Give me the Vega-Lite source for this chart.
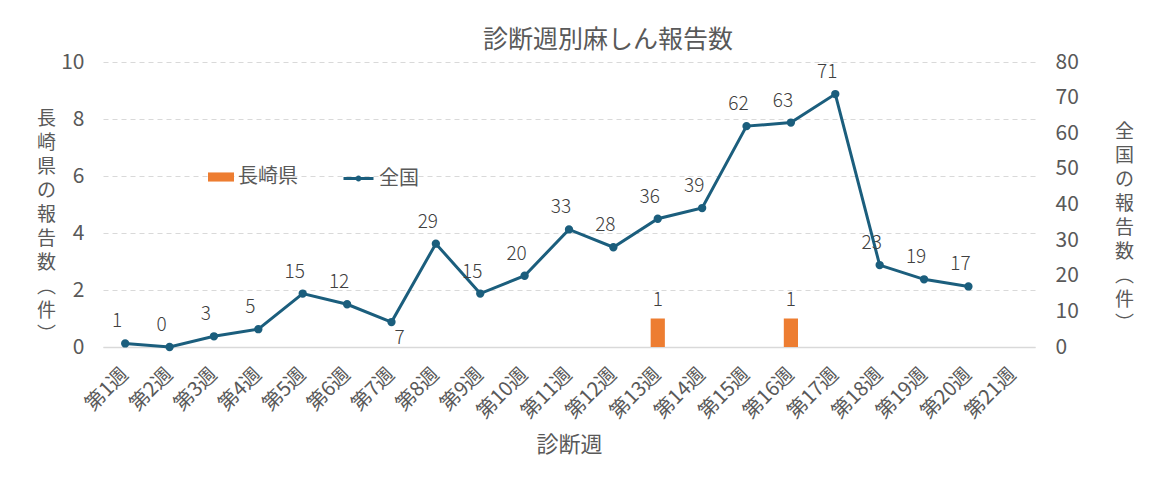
{
  "$schema": "https://vega.github.io/schema/vega-lite/v6.json",
  "width": 932,
  "height": 285,
  "autosize": {"type": "none"},
  "padding": {"left": 103, "top": 62, "right": 127, "bottom": 152},
  "background": "white",
  "config": {
    "font": "Noto Sans CJK JP",
    "view": {"stroke": null},
    "axis": {"labelColor": "#595959", "titleColor": "#595959", "labelFont": "Noto Sans CJK JP", "titleFont": "Noto Sans CJK JP", "titleFontWeight": "normal", "labelOverlap": false},
    "legend": {"labelColor": "#595959", "labelFont": "Noto Sans CJK JP", "labelFontSize": 20}
  },
  "title": {"text": "診断週別麻しん報告数", "fontSize": 25, "fontWeight": "normal", "color": "#595959", "font": "Noto Sans CJK JP", "anchor": "middle", "dx": 39, "offset": -2},
  "data": {
    "values": [
      {"week": "第1週", "nagasaki": 0, "zenkoku": 1},
      {"week": "第2週", "nagasaki": 0, "zenkoku": 0},
      {"week": "第3週", "nagasaki": 0, "zenkoku": 3},
      {"week": "第4週", "nagasaki": 0, "zenkoku": 5},
      {"week": "第5週", "nagasaki": 0, "zenkoku": 15},
      {"week": "第6週", "nagasaki": 0, "zenkoku": 12},
      {"week": "第7週", "nagasaki": 0, "zenkoku": 7},
      {"week": "第8週", "nagasaki": 0, "zenkoku": 29},
      {"week": "第9週", "nagasaki": 0, "zenkoku": 15},
      {"week": "第10週", "nagasaki": 0, "zenkoku": 20},
      {"week": "第11週", "nagasaki": 0, "zenkoku": 33},
      {"week": "第12週", "nagasaki": 0, "zenkoku": 28},
      {"week": "第13週", "nagasaki": 1, "zenkoku": 36},
      {"week": "第14週", "nagasaki": 0, "zenkoku": 39},
      {"week": "第15週", "nagasaki": 0, "zenkoku": 62},
      {"week": "第16週", "nagasaki": 1, "zenkoku": 63},
      {"week": "第17週", "nagasaki": 0, "zenkoku": 71},
      {"week": "第18週", "nagasaki": 0, "zenkoku": 23},
      {"week": "第19週", "nagasaki": 0, "zenkoku": 19},
      {"week": "第20週", "nagasaki": 0, "zenkoku": 17},
      {"week": "第21週", "nagasaki": null, "zenkoku": null}
    ]
  },
  "encoding": {
    "x": {
      "field": "week", "type": "nominal", "sort": null,
      "scale": {"paddingInner": 0, "paddingOuter": 0},
      "axis": {
        "title": "診断週", "titleFontSize": 22, "titlePadding": 12,
        "labelAngle": -45, "labelAlign": "right", "labelBaseline": "middle", "labelFontSize": 20, "labelPadding": 24,
        "ticks": false, "domainColor": "#D9D9D9", "domainWidth": 1.5, "grid": false
      }
    }
  },
  "layer": [
    {
      "encoding": {
        "y": {
          "field": "nagasaki", "type": "quantitative",
          "scale": {"domain": [0, 10]},
          "axis": {
            "orient": "left", "values": [0, 2, 4, 6, 8, 10],
            "title": ["長", "崎", "県", "の", "報", "告", "数", "︵", "件", "︶"],
            "titleAngle": 0, "titleFontSize": 19, "titleLineHeight": 24,
            "titleAlign": "center", "titleBaseline": "top", "titleX": -57, "titleY": 47,
            "labelFontSize": 21, "labelPadding": 19, "ticks": false, "domain": false,
            "grid": true, "gridColor": "#D9D9D9", "gridDash": [5, 4], "gridWidth": 1
          }
        }
      },
      "layer": [
        {
          "mark": {"type": "bar", "width": {"band": 0.32}},
          "encoding": {
            "color": {
              "datum": "長崎県", "type": "nominal",
              "scale": {"domain": ["長崎県"], "range": ["#ED7D31"]},
              "legend": {
                "title": null, "orient": "none", "legendX": 105, "legendY": 102,
                "symbolType": "M-1,-0.35H1V0.35H-1Z", "symbolSize": 676, "symbolStrokeWidth": 0, "labelOffset": 4
              }
            }
          }
        },
        {
          "transform": [{"filter": "datum.nagasaki > 0"}],
          "mark": {"type": "text", "dy": -19, "fontSize": 19, "color": "#404040", "font": "Noto Sans CJK JP", "fontWeight": 300},
          "encoding": {
            "text": {"field": "nagasaki", "type": "quantitative"}
          }
        }
      ]
    },
    {
      "encoding": {
        "y": {
          "field": "zenkoku", "type": "quantitative",
          "scale": {"domain": [0, 80]},
          "axis": {
            "orient": "right", "values": [0, 10, 20, 30, 40, 50, 60, 70, 80],
            "title": ["全", "国", "の", "報", "告", "数", "︵", "件", "︶"],
            "titleAngle": 0, "titleFontSize": 19, "titleLineHeight": 24,
            "titleAlign": "center", "titleBaseline": "top", "titleX": 89, "titleY": 60,
            "labelFontSize": 21, "labelPadding": 20, "ticks": false, "domain": false, "grid": false
          }
        }
      },
      "layer": [
        {
          "mark": {"type": "line", "strokeWidth": 3, "point": {"filled": true, "size": 40, "color": "#1B5E7D"}},
          "encoding": {
            "stroke": {
              "datum": "全国", "type": "nominal",
              "scale": {"domain": ["全国"], "range": ["#1B5E7D"]},
              "legend": {
                "title": null, "orient": "none", "legendX": 239, "legendY": 100,
                "symbolType": "M-1,0H1M-0.1,0A0.1,0.1 0 1,0 0.1,0A0.1,0.1 0 1,0 -0.1,0", "symbolSize": 900, "symbolStrokeWidth": 3, "labelOffset": 4
              }
            }
          }
        },
        {
          "transform": [{"filter": "datum.zenkoku != null && datum.week != '第7週'"}],
          "mark": {"type": "text", "dy": -22, "dx": -8, "fontSize": 19, "color": "#404040", "font": "Noto Sans CJK JP", "fontWeight": 300},
          "encoding": {
            "text": {"field": "zenkoku", "type": "quantitative"}
          }
        },
        {
          "transform": [{"filter": "datum.week == '第7週'"}],
          "mark": {"type": "text", "dy": 16, "dx": 8, "fontSize": 19, "color": "#404040", "font": "Noto Sans CJK JP", "fontWeight": 300},
          "encoding": {
            "text": {"field": "zenkoku", "type": "quantitative"}
          }
        }
      ]
    }
  ],
  "resolve": {"scale": {"y": "independent"}}
}
